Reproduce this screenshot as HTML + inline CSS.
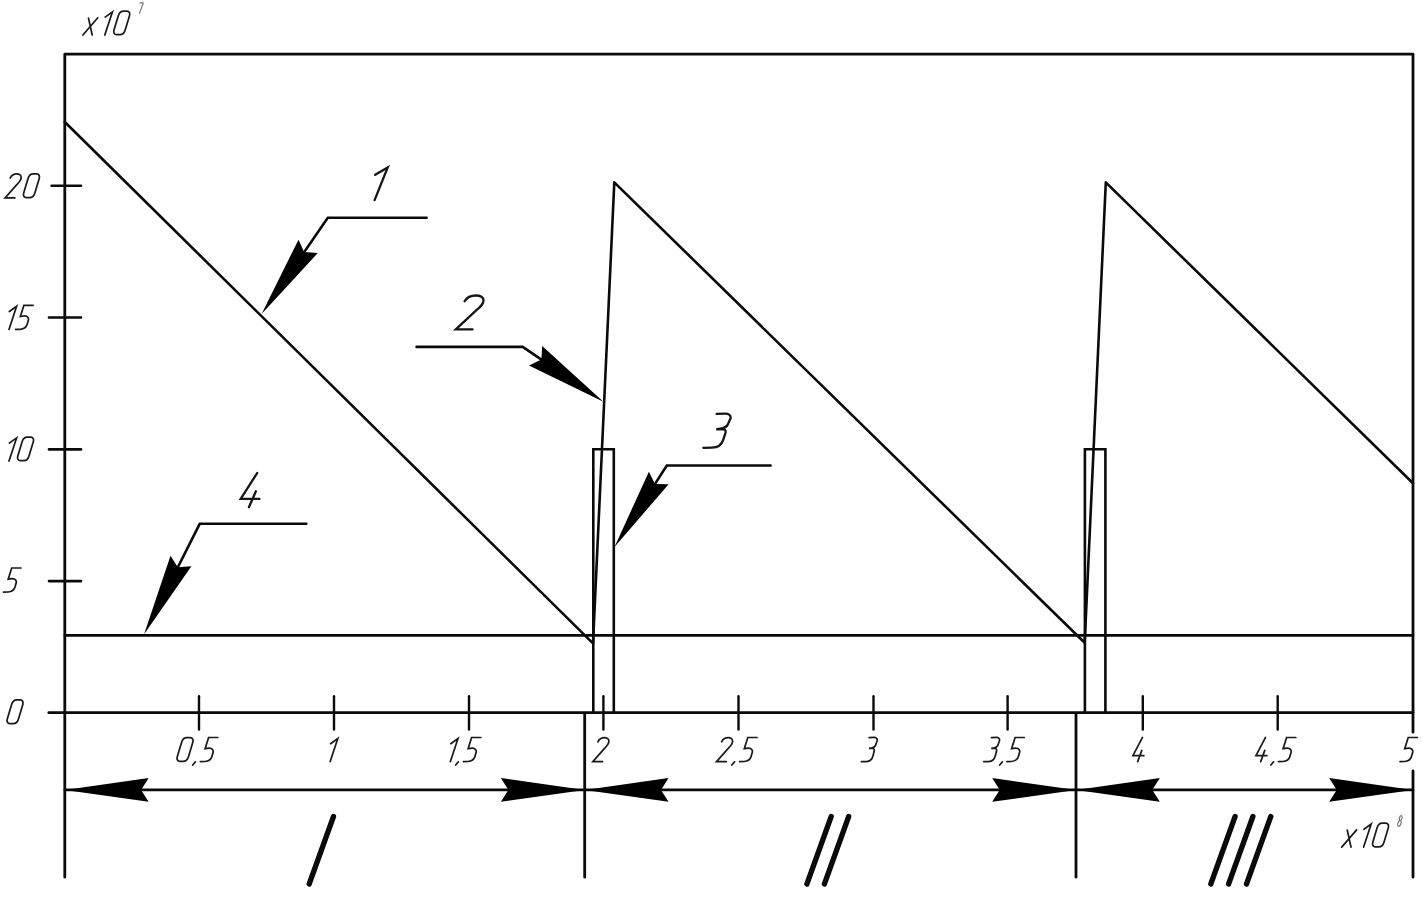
<!DOCTYPE html>
<html><head><meta charset="utf-8"><title>chart</title>
<style>html,body{margin:0;padding:0;background:#fff;font-family:"Liberation Sans",sans-serif;}svg{display:block}</style>
</head><body>
<svg width="1422" height="903" viewBox="0 0 1422 903">
<rect width="100%" height="100%" fill="#fff"/>
<g fill="none" stroke="#0a0a0a" stroke-width="2.8" stroke-linecap="round" stroke-linejoin="round">
<path d="M64.8,877.2 L64.8,54.2 L1413.0,54.2 L1413.0,732.2 M1413.0,770.8 L1413.0,877.2"/>
<path d="M48.8,712.7 L1413.0,712.7"/>
<path d="M584.7,713.3 L584.7,877.2 M1076,713.3 L1076,877.2"/>
</g>
<g fill="none" stroke="#0a0a0a" stroke-width="2.6" stroke-linecap="round" stroke-linejoin="miter">
<path d="M51.6,185.7 L81.0,185.7"/>
<path d="M49.0,317.5 L81.0,317.5"/>
<path d="M49.0,449.4 L81.0,449.4"/>
<path d="M49.0,581.1 L81.0,581.1"/>
<path stroke-width="2.4" d="M199.0,696.3 L199.0,729.6"/>
<path stroke-width="2.4" d="M334.0,696.3 L334.0,729.6"/>
<path stroke-width="2.4" d="M469.0,696.3 L469.0,729.6"/>
<path stroke-width="2.4" d="M603.4,696.3 L603.4,729.6"/>
<path stroke-width="2.4" d="M738.5,696.3 L738.5,729.6"/>
<path stroke-width="2.4" d="M873.5,696.3 L873.5,729.6"/>
<path stroke-width="2.4" d="M1007.6,696.3 L1007.6,729.6"/>
<path stroke-width="2.4" d="M1142.8,696.3 L1142.8,729.6"/>
<path stroke-width="2.4" d="M1277.7,696.3 L1277.7,729.6"/>
<path d="M64.8,635.4 L1413.0,635.4"/>
<path stroke-linejoin="round" d="M64.8,122 L593.0,643.4 L614.3,182.4 L1084.7,642.8 L1105.8,182.4 L1413.0,483.3"/>
<path d="M593.3,712.7 L593.3,449.2 L613.8,449.2 L613.8,712.7"/>
<path d="M1084.9,712.7 L1084.9,449.2 L1105.4,449.2 L1105.4,712.7"/>
<path d="M64.8,789.9 L1413.0,789.9"/>
<path d="M284.3,281.0 L327.8,217.8 L426.6,217.8"/>
<path d="M570.3,379.3 L522.7,346.9 L416.6,346.9"/>
<path d="M636.1,513.3 L666.8,465.5 L770.6,465.5"/>
<path d="M162.1,598.5 L199.7,523.8 L306.3,523.8"/>
</g>
<g fill="#000" stroke="none">
<polygon points="261.6,313.9 317.8,253.0 304.1,252.1 298.5,239.7"/>
<polygon points="603.4,401.8 542.2,346.0 541.4,359.6 529.0,365.4"/>
<polygon points="614.5,547.0 668.6,484.3 655.0,483.9 648.9,471.7"/>
<polygon points="144.1,634.2 191.4,566.2 177.8,567.2 170.5,555.7"/>
<polygon points="64.8,789.9 148.6,801.8 141.1,789.9 148.6,778.0"/>
<polygon points="584.7,789.9 500.9,778.0 508.4,789.9 500.9,801.8"/>
<polygon points="584.7,789.9 668.5,801.8 661.0,789.9 668.5,778.0"/>
<polygon points="1076.0,789.9 992.2,778.0 999.7,789.9 992.2,801.8"/>
<polygon points="1076.0,789.9 1159.8,801.8 1152.3,789.9 1159.8,778.0"/>
<polygon points="1413.0,789.9 1329.2,778.0 1336.7,789.9 1329.2,801.8"/>
</g>
<g fill="none" stroke="#1a1a1a" stroke-width="1.72" stroke-linecap="round" stroke-linejoin="miter" stroke-miterlimit="10">
<path d="M177.28,756.71 L181.62,742.23 C182.39,739.69 184.75,737.63 186.90,737.63 L190.30,737.63 C192.46,737.63 193.59,739.69 192.82,742.23 L188.48,756.71 C187.72,759.25 185.35,761.31 183.20,761.31 L179.80,761.31 C177.65,761.31 176.52,759.25 177.28,756.71 Z"/>
<path d="M195.40,761.80 L192.70,765.00"/>
<path d="M217.80,737.50 L208.60,737.50 L205.10,748.70 L209.00,748.10 C213.00,748.00 213.40,751.20 213.20,751.93 L211.80,756.70 C210.80,760.40 207.40,761.20 205.02,761.49 L200.40,761.60"/>
<path d="M330.55,743.69 L337.80,738.52 L330.20,761.60"/>
<path d="M450.75,743.69 L458.00,738.52 L450.40,761.60"/>
<path d="M458.40,761.80 L455.70,765.00"/>
<path d="M480.80,737.50 L471.60,737.50 L468.10,748.70 L472.00,748.10 C476.00,748.00 476.40,751.20 476.20,751.93 L474.80,756.70 C473.80,760.40 470.40,761.20 468.02,761.49 L463.40,761.60"/>
<path d="M597.93,741.78 C599.03,739.44 601.64,737.67 604.48,737.67 C607.15,737.67 608.95,738.94 608.89,741.28 C608.83,744.25 606.57,746.31 604.48,748.36 L592.82,761.60 L602.57,761.60"/>
<path d="M721.63,741.78 C722.73,739.44 725.34,737.67 728.18,737.67 C730.85,737.67 732.65,738.94 732.59,741.28 C732.53,744.25 730.27,746.31 728.18,748.36 L716.52,761.60 L726.27,761.60"/>
<path d="M734.60,761.80 L731.90,765.00"/>
<path d="M757.00,737.50 L747.80,737.50 L744.30,748.70 L748.20,748.10 C752.20,748.00 752.60,751.20 752.40,751.93 L751.00,756.70 C750.00,760.40 746.60,761.20 744.22,761.49 L739.60,761.60"/>
<path d="M869.11,737.60 L874.10,737.39 C875.84,737.32 877.41,738.31 877.29,740.43 L875.84,744.47 C875.44,746.38 872.94,748.08 868.91,748.46 L872.19,748.36 C873.75,748.36 874.68,749.14 874.30,750.84 L872.94,756.01 C872.19,759.05 869.87,761.39 866.39,761.53 L861.40,761.60"/>
<path d="M991.41,737.60 L996.40,737.39 C998.14,737.32 999.71,738.31 999.59,740.43 L998.14,744.47 C997.74,746.38 995.24,748.08 991.21,748.46 L994.49,748.36 C996.05,748.36 996.98,749.14 996.61,750.84 L995.24,756.01 C994.49,759.05 992.17,761.39 988.69,761.53 L983.70,761.60"/>
<path d="M1002.40,761.80 L999.70,765.00"/>
<path d="M1024.30,737.50 L1015.10,737.50 L1011.60,748.70 L1015.50,748.10 C1019.50,748.00 1019.90,751.20 1019.70,751.93 L1018.30,756.70 C1017.30,760.40 1013.90,761.20 1011.52,761.49 L1006.90,761.60"/>
<path d="M1142.51,737.39 L1132.94,755.72 L1143.85,755.72 M1141.76,750.34 L1137.70,761.60"/>
<path d="M1265.51,737.39 L1255.94,755.72 L1266.85,755.72 M1264.76,750.34 L1260.70,761.60"/>
<path d="M1273.60,761.80 L1270.90,765.00"/>
<path d="M1295.80,737.50 L1286.60,737.50 L1283.10,748.70 L1287.00,748.10 C1291.00,748.00 1291.40,751.20 1291.20,751.93 L1289.80,756.70 C1288.80,760.40 1285.40,761.20 1283.02,761.49 L1278.40,761.60"/>
<path d="M1417.40,737.50 L1408.20,737.50 L1404.70,748.70 L1408.60,748.10 C1412.60,748.00 1413.00,751.20 1412.80,751.93 L1411.40,756.70 C1410.40,760.40 1407.00,761.20 1404.62,761.49 L1400.00,761.60"/>
<path d="M10.23,178.08 C11.33,175.74 13.94,173.97 16.78,173.97 C19.45,173.97 21.25,175.24 21.19,177.58 C21.13,180.55 18.87,182.61 16.78,184.66 L5.12,197.90 L14.87,197.90"/>
<path d="M23.68,193.01 L28.02,178.53 C28.79,175.99 31.15,173.93 33.30,173.93 L36.70,173.93 C38.86,173.93 39.99,175.99 39.22,178.53 L34.88,193.01 C34.12,195.55 31.75,197.61 29.60,197.61 L26.20,197.61 C24.05,197.61 22.92,195.55 23.68,193.01 Z"/>
<path d="M9.35,311.49 L16.60,306.32 L9.00,329.40"/>
<path d="M33.10,305.30 L23.90,305.30 L20.40,316.50 L24.30,315.90 C28.30,315.80 28.70,319.00 28.50,319.73 L27.10,324.50 C26.10,328.20 22.70,329.00 20.32,329.29 L15.70,329.40"/>
<path d="M9.35,443.09 L16.60,437.92 L9.00,461.00"/>
<path d="M17.78,456.11 L22.12,441.63 C22.89,439.09 25.25,437.03 27.40,437.03 L30.80,437.03 C32.96,437.03 34.09,439.09 33.32,441.63 L28.98,456.11 C28.22,458.65 25.85,460.71 23.70,460.71 L20.30,460.71 C18.15,460.71 17.02,458.65 17.78,456.11 Z"/>
<path d="M20.90,568.00 L11.70,568.00 L8.20,579.20 L12.10,578.60 C16.10,578.50 16.50,581.70 16.30,582.43 L14.90,587.20 C13.90,590.90 10.50,591.70 8.12,591.99 L3.50,592.10"/>
<path d="M7.28,719.01 L11.62,704.53 C12.39,701.99 14.75,699.93 16.90,699.93 L20.30,699.93 C22.46,699.93 23.59,701.99 22.82,704.53 L18.48,719.01 C17.72,721.55 15.35,723.61 13.20,723.61 L9.80,723.61 C7.65,723.61 6.52,721.55 7.28,719.01 Z"/>
<path d="M88.50,18.10 L92.20,35.00 M97.80,17.80 L82.90,35.00"/>
<path d="M105.15,17.09 L112.40,11.92 L104.80,35.00"/>
<path d="M113.98,30.11 L118.32,15.63 C119.09,13.09 121.45,11.03 123.60,11.03 L127.00,11.03 C129.16,11.03 130.29,13.09 129.52,15.63 L125.18,30.11 C124.42,32.65 122.05,34.71 119.90,34.71 L116.50,34.71 C114.35,34.71 113.22,32.65 113.98,30.11 Z"/>
<path d="M1347.30,830.20 L1351.00,847.10 M1356.60,829.90 L1341.70,847.10"/>
<path d="M1363.95,829.19 L1371.20,824.02 L1363.60,847.10"/>
<path d="M1372.78,842.21 L1377.12,827.73 C1377.89,825.19 1380.25,823.13 1382.40,823.13 L1385.80,823.13 C1387.96,823.13 1389.09,825.19 1388.32,827.73 L1383.98,842.21 C1383.22,844.75 1380.85,846.81 1378.70,846.81 L1375.30,846.81 C1373.15,846.81 1372.02,844.75 1372.78,842.21 Z"/>
</g>
<g fill="none" stroke="#151515" stroke-width="2.3" stroke-linecap="round" stroke-linejoin="miter" stroke-miterlimit="10">
<path d="M375.20,174.80 L387.70,167.50 L374.60,200.10"/>
<path d="M464.60,301.30 C466.50,298.00 471.00,295.50 475.90,295.50 C480.50,295.50 483.60,297.30 483.50,300.60 C483.40,304.80 479.50,307.70 475.90,310.60 L455.80,329.30 L472.60,329.30"/>
<path d="M716.60,413.90 L725.20,413.60 C728.20,413.50 730.90,414.90 730.70,417.90 L728.20,423.60 C727.50,426.30 723.20,428.70 716.25,429.24 L721.90,429.10 C724.60,429.10 726.20,430.20 725.55,432.60 L723.20,439.90 C721.90,444.20 717.90,447.50 711.90,447.70 L703.30,447.80"/>
<path d="M257.20,473.00 L240.70,498.90 L259.50,498.90 M255.90,491.30 L248.90,507.20"/>
</g>
<g fill="none" stroke="#0a0a0a" stroke-width="5.3" stroke-linecap="round">
<path d="M309.2,884 L333.5,816.5"/>
<path d="M806.9,884 L831.2,816.5"/>
<path d="M824.4,884 L848.7,816.5"/>
<path d="M1210.8,884 L1235.1,816.5"/>
<path d="M1228.6,884 L1252.9,816.5"/>
<path d="M1246.5,884 L1270.8,816.5"/>
</g>
<g fill="none" stroke="#777" stroke-width="1.15" stroke-linecap="round" stroke-linejoin="round">
<path d="M140.0,2.9 L143.3,2.9 L139.5,13.4"/>
<path d="M1400.3,820.6 C1398.6,820.6 1399.4,815.6 1401.1,815.6 C1402.8,815.6 1402,820.6 1400.3,820.6 C1398.0,820.6 1396.6,826.4 1398.6,826.4 C1400.6,826.4 1402.3,820.6 1400.3,820.6"/>
</g>
</svg>
</body></html>
